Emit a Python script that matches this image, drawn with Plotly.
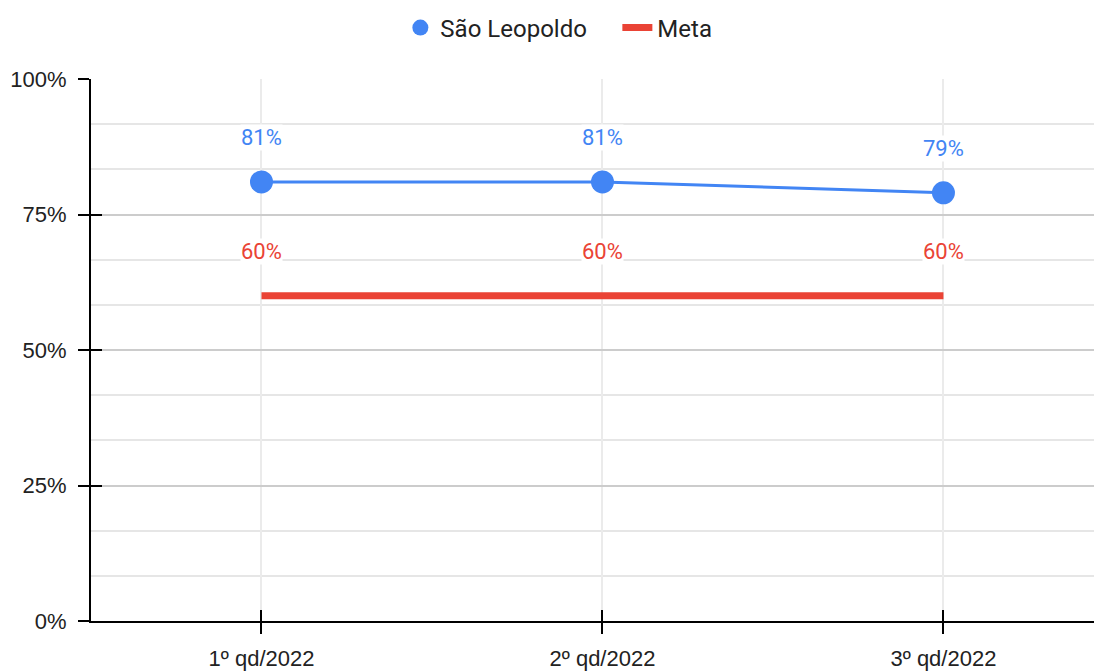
import plotly.graph_objects as go

categories = ["1º qd/2022", "2º qd/2022", "3º qd/2022"]
sao_leopoldo = [0.81, 0.81, 0.79]
meta = [0.60, 0.60, 0.60]
tick_vals = [0, 0.25, 0.5, 0.75, 1.0]
tick_text = ["0%", "25%", "50%", "75%", "100%"]

BLUE = "#4285f4"
RED = "#ea4335"
LABEL_FONT = "Roboto"
AXIS_FONT = "Liberation Sans"
TEXT = "#222222"

fig = go.Figure()
fig.add_trace(go.Scatter(x=categories, y=meta, mode="lines", name="Meta",
                         line=dict(color=RED, width=7), showlegend=False,
                         hoverinfo="skip"))
fig.add_trace(go.Scatter(x=categories, y=sao_leopoldo, mode="lines+markers",
                         name="São Leopoldo", line=dict(color=BLUE, width=3),
                         marker=dict(size=23, color=BLUE), showlegend=False))
# legend entries
fig.add_trace(go.Scatter(x=[None], y=[None], mode="markers", name="São Leopoldo",
                         marker=dict(size=23, color=BLUE)))
fig.add_trace(go.Scatter(x=[None], y=[None], mode="lines", name="Meta",
                         line=dict(color=RED, width=7)))

annotations = []
for c, v in zip(categories, sao_leopoldo):
    annotations.append(dict(x=c, y=v, text=f"{round(v*100)}%", showarrow=False,
                            yshift=44, font=dict(family=LABEL_FONT, size=22, color=BLUE),
                            bgcolor="white", borderpad=0))
for c, v in zip(categories, meta):
    annotations.append(dict(x=c, y=v, text=f"{round(v*100)}%", showarrow=False,
                            yshift=44, font=dict(family=LABEL_FONT, size=22, color=RED),
                            bgcolor="white", borderpad=0))

# the page body has an 8px default margin, so the figure is drawn 8px smaller
fig.update_layout(
    width=1094, height=663,
    margin=dict(l=83, r=0, t=71, b=50, autoexpand=False),
    paper_bgcolor="white", plot_bgcolor="white",
    font=dict(family=AXIS_FONT, size=22, color=TEXT),
    annotations=annotations,
    legend=dict(orientation="h", x=0.306, xanchor="left", y=1.0941, yanchor="middle",
                font=dict(family=LABEL_FONT, size=24, color=TEXT), itemwidth=30,
                entrywidth=172, entrywidthmode="pixels"),
    xaxis=dict(range=[-0.5, 2.465], showgrid=True, gridcolor="#ebebeb", gridwidth=1.5,
               showline=True, linecolor="black", linewidth=2,
               ticks="outside", ticklen=11, tickwidth=2, tickcolor="black",
               tickfont=dict(family=AXIS_FONT, size=22, color=TEXT), zeroline=False,
               fixedrange=True, automargin=False, ticklabelstandoff=6),
    yaxis=dict(range=[0, 1.0], tickvals=tick_vals, ticktext=tick_text,
               showgrid=True, gridcolor="#cccccc", gridwidth=1.5,
               minor=dict(dtick=0.25/3, showgrid=True, gridcolor="#e6e6e6", gridwidth=1.5,
                          tick0=0),
               showline=True, linecolor="black", linewidth=2,
               ticks="outside", ticklen=11, tickwidth=2, tickcolor="black",
               tickfont=dict(family=AXIS_FONT, size=22, color=TEXT), zeroline=False,
               fixedrange=True, automargin=False, ticklabelstandoff=7),
    xaxis2=dict(range=[-0.5, 2.465], overlaying="x", showgrid=False,
                ticks="inside", ticklen=11, tickwidth=2, tickcolor="black",
                showticklabels=False, tickvals=[0, 1, 2], zeroline=False,
                anchor="y2", automargin=False),
    yaxis2=dict(range=[0, 1.0], overlaying="y", showgrid=False, tickvals=tick_vals,
                ticks="inside", ticklen=11, tickwidth=2, tickcolor="black",
                showticklabels=False, zeroline=False, anchor="x2", side="left",
                automargin=False),
)
# invisible trace to activate overlay axes (used for the inner half of crossing ticks)
fig.add_trace(go.Scatter(x=[None], y=[None], xaxis="x2", yaxis="y2", showlegend=False,
                         hoverinfo="skip"))

fig.write_html("out.html")
